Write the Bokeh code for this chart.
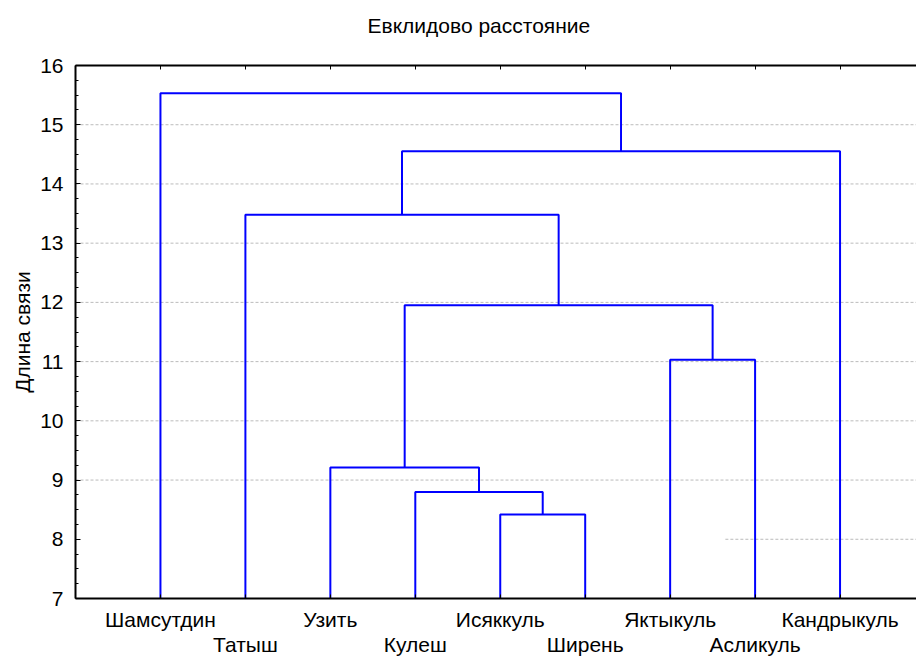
from bokeh.plotting import figure
from bokeh.models import Range1d, LinearAxis, FixedTicker, Title
from bokeh.embed import file_html
from bokeh.resources import INLINE

# ---- data ----
leaves = ["Шамсутдин", "Татыш", "Узить", "Кулеш", "Исяккуль",
          "Ширень", "Яктыкуль", "Асликуль", "Кандрыкуль"]
# linkage: cluster ids 0..8 are leaves, 9.. are merges in order
merge_left = [4, 3, 2, 6, 11, 1, 14, 0]
merge_right = [5, 9, 10, 7, 12, 13, 8, 15]
merge_height = [8.42, 8.80, 9.21, 11.03, 11.95, 13.48, 14.55, 15.53]
y_ticks = [7, 8, 9, 10, 11, 12, 13, 14, 15, 16]
grid_levels = [9, 10, 11, 12, 13, 14, 15]
partial_grid_level = 8
partial_grid_start = 7.65

title_text = "Евклидово расстояние"
y_label = "Длина связи"

FONT = "Liberation Sans"
FS = "21px"
BLUE = "#0000FF"
GRID = "#BBBBBB"
X_END = 9.9

# ---- positions from linkage ----
n = len(leaves)
pos_x = {i: i + 1 for i in range(n)}
pos_y = {i: y_ticks[0] for i in range(n)}
xs, ys = [], []
for k, (a, b, h) in enumerate(zip(merge_left, merge_right, merge_height)):
    cid = n + k
    xa, ya, xb, yb = pos_x[a], pos_y[a], pos_x[b], pos_y[b]
    xs.append([xa, xa, xb, xb])
    ys.append([ya, h, h, yb])
    pos_x[cid] = (xa + xb) / 2
    pos_y[cid] = h

p = figure(width=916, height=658, output_backend="svg", toolbar_location=None,
           x_range=Range1d(0, X_END), y_range=Range1d(7, 16),
           x_axis_location=None, y_axis_location=None,
           min_border_left=75, min_border_right=0, min_border_top=65,
           min_border_bottom=60)
p.outline_line_color = None
p.background_fill_color = "white"
p.border_fill_color = "white"
p.xgrid.visible = False
p.ygrid.visible = False

# trailing empty line lifts the title towards the top of the canvas
title = Title(text=title_text + "\n", align="left", offset=292,
              text_font=FONT, text_font_size=FS, text_font_style="normal",
              text_color="black")
try:
    title.standoff = 12
except Exception:
    pass
p.title = title

# grid lines
p.segment(x0=[0] * len(grid_levels), x1=[X_END] * len(grid_levels),
          y0=grid_levels, y1=grid_levels, line_color=GRID,
          line_width=1, line_dash="3 2")
p.segment(x0=[partial_grid_start], x1=[X_END], y0=[partial_grid_level],
          y1=[partial_grid_level], line_color=GRID, line_width=1,
          line_dash="3 2")

# dendrogram
p.multi_line(xs=xs, ys=ys, line_color=BLUE, line_width=2)

leaf_pos = [i + 1 for i in range(n)]
odd_pos = [i + 1 for i in range(0, n, 2)]
even_pos = [i + 1 for i in range(1, n, 2)]

# left axis
ya = LinearAxis(ticker=FixedTicker(ticks=y_ticks,
                minor_ticks=[7 + 0.25 * i for i in range(37)]))
ya.axis_label = y_label
ya.axis_line_width = 2
ya.major_tick_in = 5
ya.major_tick_out = 0
ya.minor_tick_in = 3
ya.minor_tick_out = 0
ya.major_label_standoff = 12
ya.major_label_text_font = FONT
ya.major_label_text_font_size = FS
ya.major_label_text_color = "black"
ya.axis_label_text_font = FONT
ya.axis_label_text_font_size = FS
ya.axis_label_text_font_style = "normal"
ya.axis_label_text_color = "black"
ya.axis_label_standoff = 3
p.add_layout(ya, "left")

# top axis: frame line with leaf ticks (minor ticks only, no labels)
ta = LinearAxis(ticker=FixedTicker(ticks=[], minor_ticks=leaf_pos))
ta.axis_line_width = 2
ta.major_tick_in = 0
ta.major_tick_out = 0
ta.minor_tick_in = 4
ta.minor_tick_out = 0
p.add_layout(ta, "above")

# bottom axis row 1 (odd leaves labelled, even leaves as unlabelled ticks)
ba = LinearAxis(ticker=FixedTicker(ticks=odd_pos, minor_ticks=even_pos))
ba.axis_line_width = 2
ba.major_tick_in = 4
ba.major_tick_out = 0
ba.minor_tick_in = 4
ba.minor_tick_out = 0
ba.major_label_standoff = 9
ba.major_label_text_font = FONT
ba.major_label_text_font_size = FS
ba.major_label_text_color = "black"
ba.major_label_overrides = {i + 1: leaves[i] for i in range(0, n, 2)}
p.add_layout(ba, "below")

# bottom axis row 2 (even leaves)
ba2 = LinearAxis(ticker=FixedTicker(ticks=even_pos, minor_ticks=[]))
ba2.axis_line_color = None
ba2.major_tick_line_color = None
ba2.major_tick_in = 0
ba2.major_tick_out = 0
ba2.major_label_standoff = -1
ba2.major_label_text_font = FONT
ba2.major_label_text_font_size = FS
ba2.major_label_text_color = "black"
ba2.major_label_overrides = {i + 1: leaves[i] for i in range(1, n, 2)}
p.add_layout(ba2, "below")

open("out.html", "w").write(file_html(p, INLINE))
